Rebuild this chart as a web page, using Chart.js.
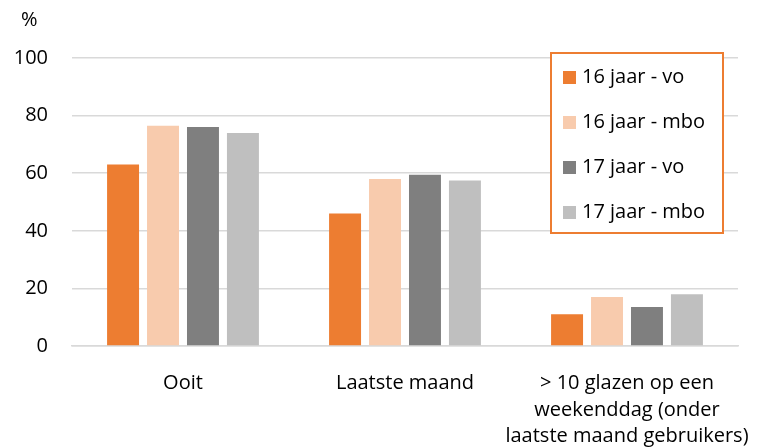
<!DOCTYPE html>
<html>
<head>
<meta charset="utf-8">
<script src="https://cdn.jsdelivr.net/npm/chart.js@4"></script>
<style>
  html, body { margin: 0; padding: 0; background: #fff; }
  #wrap { width: 771px; height: 448px; }
</style>
</head>
<body>
<div id="wrap"><canvas id="chart" width="771" height="448"></canvas></div>
<script>
const categories = [
  "Ooit",
  "Laatste maand",
  ["> 10 glazen op een", "weekenddag (onder", "laatste maand gebruikers)"]
];
const seriesNames = ["16 jaar - vo", "16 jaar - mbo", "17 jaar - vo", "17 jaar - mbo"];
const vo16 = [63, 46, 11];
const mbo16 = [76.5, 58, 17];
const vo17 = [76, 59.5, 13.5];
const mbo17 = [74, 57.5, 18];
const yTicks = [0, 20, 40, 60, 80, 100];
const colors = ["#ED7D31", "#F8CBAD", "#7F7F7F", "#BFBFBF"];

const FONT = "'Open Sans', Lato, sans-serif";

// legend box + "%" label drawn on the canvas
const extras = {
  id: "extras",
  afterDraw(chart) {
    const ctx = chart.ctx;
    ctx.save();
    ctx.font = "20px " + FONT;
    ctx.fillStyle = "#000";
    ctx.textBaseline = "middle";
    ctx.textAlign = "left";
    ctx.fillText("%", 21, 20);

    const bx = 551, by = 53, bw = 172, bh = 180;
    ctx.fillStyle = "#fff";
    ctx.fillRect(bx, by, bw, bh);
    ctx.strokeStyle = "#ED7D31";
    ctx.lineWidth = 2;
    ctx.strokeRect(bx, by, bw, bh);
    chart.data.datasets.forEach((ds, i) => {
      const cy = 77 + i * 45;
      ctx.fillStyle = ds.backgroundColor;
      ctx.fillRect(563, cy - 6, 13, 13);
      ctx.fillStyle = "#000";
      ctx.fillText(ds.label, 582, cy);
    });
    ctx.restore();
  }
};

const data = [vo16, mbo16, vo17, mbo17];

new Chart(document.getElementById("chart"), {
  type: "bar",
  data: {
    labels: categories,
    datasets: seriesNames.map((name, i) => ({
      label: name,
      data: data[i],
      backgroundColor: colors[i],
      categoryPercentage: 0.72,
      barPercentage: 0.8
    }))
  },
  options: {
    responsive: false,
    animation: false,
    layout: { padding: { top: 58, right: 33, left: 0, bottom: 0 } },
    plugins: {
      legend: { display: false },
      tooltip: { enabled: false }
    },
    scales: {
      x: {
        grid: { display: false, drawTicks: false },
        border: { color: "#d9d9d9", width: 1.5 },
        ticks: {
          color: "#000",
          font: { family: FONT, size: 20, lineHeight: 1.33 },
          padding: 24,
          maxRotation: 0,
          autoSkip: false
        },
        afterFit(scale) {
          scale.height = 102;
          scale.paddingLeft = 0;
          scale.paddingRight = 0;
        }
      },
      y: {
        min: 0,
        max: 100,
        afterBuildTicks(scale) { scale.ticks = yTicks.map(v => ({ value: v })); },
        grid: { color: "#d9d9d9", lineWidth: 1.5, drawTicks: false },
        border: { display: false },
        ticks: {
          color: "#000",
          font: { family: FONT, size: 20 },
          padding: 24
        },
        afterFit(scale) { scale.width = 72; }
      }
    }
  },
  plugins: [extras]
});
</script>
</body>
</html>
